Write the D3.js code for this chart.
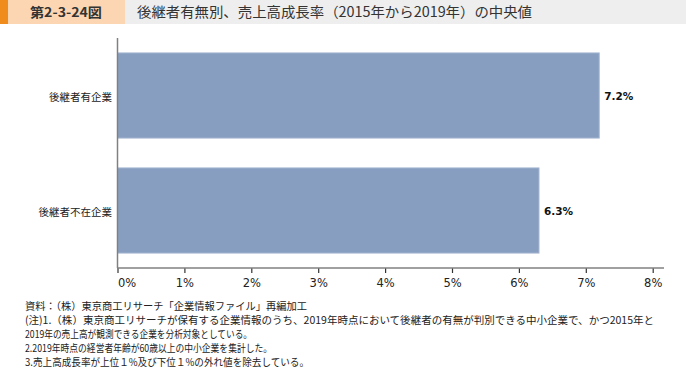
<!DOCTYPE html>
<html>
<head>
<meta charset="utf-8">
<script src="https://cdn.jsdelivr.net/npm/d3@7"></script>
<style>
  body { margin: 0; background: #fff; }
  svg { display: block; }
</style>
</head>
<body>
<svg id="chart" width="686" height="375"></svg>
<script>
const figNo = '第2-3-24図';
const title = '後継者有無別、売上高成長率（2015年から2019年）の中央値';
const categories = ['後継者有企業', '後継者不在企業'];
const values = [7.2, 6.3];
const xTicks = [0, 1, 2, 3, 4, 5, 6, 7, 8];
const notes = [
  '資料：（株）東京商工リサーチ「企業情報ファイル」再編加工',
  '(注)1.（株）東京商工リサーチが保有する企業情報のうち、2019年時点において後継者の有無が判別できる中小企業で、かつ2015年と',
  '2019年の売上高が観測できる企業を分析対象としている。',
  '2.2019年時点の経営者年齢が60歳以上の中小企業を集計した。',
  '3.売上高成長率が上位１%及び下位１%の外れ値を除去している。'
];
const noteWidths = [282, 629, 227, 247, 284];

const svg = d3.select('#chart');
const jp = '"Noto Sans CJK JP", "Noto Sans", sans-serif';

// header band
svg.append('rect').attr('x', 0).attr('y', 0).attr('width', 686).attr('height', 24).attr('fill', '#eeeeee');
svg.append('rect').attr('x', 0).attr('y', 0).attr('width', 125).attr('height', 24).attr('fill', '#fcd6b2');
svg.append('rect').attr('x', 0).attr('y', 0).attr('width', 8).attr('height', 24).attr('fill', '#f08c1e');
svg.append('text')
  .attr('x', 66).attr('y', 12).attr('dy', '0.36em')
  .attr('text-anchor', 'middle')
  .attr('font-family', jp).attr('font-size', 13).attr('font-weight', 'bold')
  .attr('fill', '#333')
  .attr('textLength', 72).attr('lengthAdjust', 'spacingAndGlyphs')
  .text(figNo);
svg.append('text')
  .attr('x', 137).attr('y', 12).attr('dy', '0.36em')
  .attr('font-family', jp).attr('font-size', 14)
  .attr('fill', '#333')
  .attr('textLength', 395).attr('lengthAdjust', 'spacingAndGlyphs')
  .text(title);

// scales
const x = d3.scaleLinear().domain([0, 8]).range([117.5, 652.7]);
const y = d3.scaleBand().domain(categories).range([38, 268])
  .paddingInner(0.26).paddingOuter(0.13);

const g = svg.append('g');

// bars
g.selectAll('.bar')
  .data(values)
  .enter()
  .append('rect')
  .attr('class', 'bar')
  .attr('x', x(0))
  .attr('y', (d, i) => y(categories[i]))
  .attr('width', d => x(d) - x(0))
  .attr('height', y.bandwidth())
  .attr('fill', '#889ec1')
  .attr('stroke', '#a2b3cf')
  .attr('stroke-width', 1);

// value labels
g.selectAll('.val')
  .data(values)
  .enter()
  .append('text')
  .attr('class', 'val')
  .attr('x', d => x(d) + 5)
  .attr('y', (d, i) => y(categories[i]) + y.bandwidth() / 2 + 1)
  .attr('dy', '0.35em')
  .attr('font-family', '"DejaVu Sans", Verdana, sans-serif')
  .attr('font-size', 10.5).attr('font-weight', 'bold')
  .attr('fill', '#111')
  .text(d => d.toFixed(1) + '%');

// category labels
g.selectAll('.cat')
  .data(categories)
  .enter()
  .append('text')
  .attr('class', 'cat')
  .attr('x', 112)
  .attr('y', d => y(d) + y.bandwidth() / 2 + 2)
  .attr('dy', '0.35em')
  .attr('text-anchor', 'end')
  .attr('font-family', jp).attr('font-size', 10.5)
  .attr('fill', '#222')
  .text(d => d);

// x axis
const xAxis = g.append('g')
  .attr('transform', 'translate(0,268)')
  .call(d3.axisBottom(x).tickValues(xTicks).tickSize(5).tickSizeOuter(0).tickPadding(6)
    .tickFormat(d => d + '%'));
xAxis.select('.domain').remove();
xAxis.selectAll('.tick line').attr('stroke', '#333').attr('stroke-width', 1.2);
xAxis.selectAll('.tick text')
  .attr('font-family', '"DejaVu Sans", Verdana, sans-serif')
  .attr('font-size', 11.5)
  .attr('fill', '#222')
  .attr('dx', d => d === 0 ? 9 : 0);

g.append('line')
  .attr('x1', x(0)).attr('x2', 664)
  .attr('y1', 268).attr('y2', 268)
  .attr('stroke', '#808080').attr('stroke-width', 1.5);

// y axis line
g.append('line')
  .attr('x1', x(0)).attr('x2', x(0))
  .attr('y1', 38).attr('y2', 268)
  .attr('stroke', '#808080').attr('stroke-width', 1.5);

// notes
svg.append('g').selectAll('text')
  .data(notes)
  .enter()
  .append('text')
  .attr('x', 25)
  .attr('y', (d, i) => 310 + i * 14)
  .attr('font-family', jp).attr('font-size', 10.5)
  .attr('fill', '#222')
  .attr('textLength', (d, i) => noteWidths[i])
  .attr('lengthAdjust', 'spacingAndGlyphs')
  .text(d => d);
</script>
</body>
</html>
